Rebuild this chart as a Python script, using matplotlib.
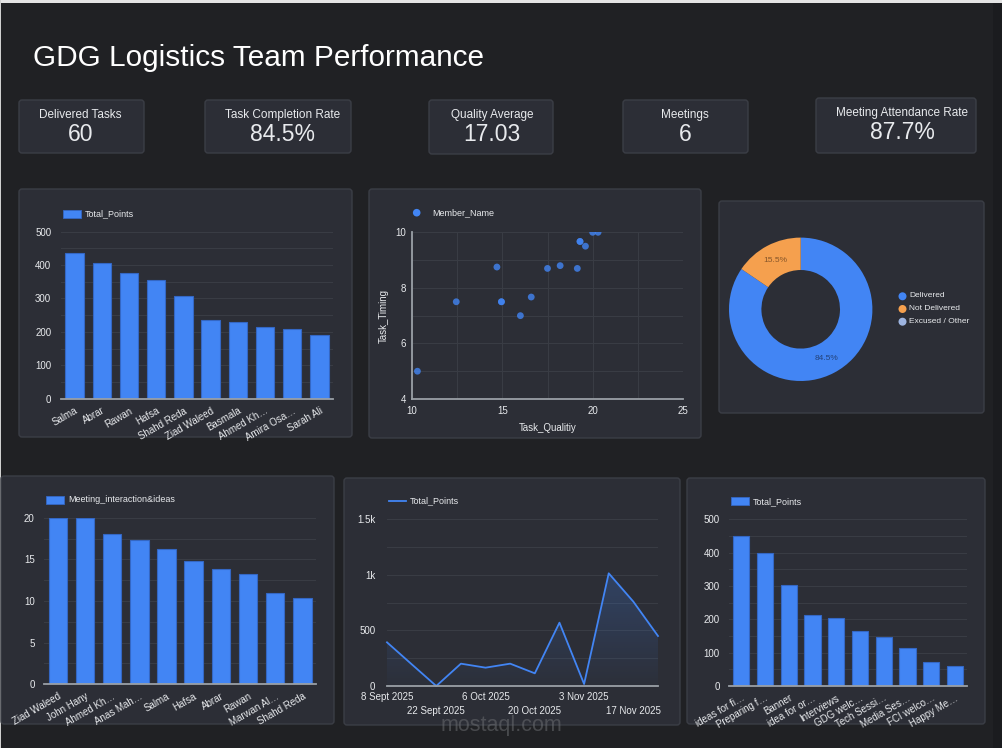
"""GDG Logistics Team Performance - dashboard recreation."""

import matplotlib
matplotlib.use("Agg")
import matplotlib.pyplot as plt
import numpy as np
from matplotlib.patches import FancyBboxPatch, Rectangle, Polygon, Circle
from matplotlib.ticker import FuncFormatter, MultipleLocator, FixedLocator

plt.rcParams["font.family"] = ["Liberation Sans", "DejaVu Sans"]

# ── Datos ────────────────────────────────────────────────────────────
kpi_labels = ["Delivered Tasks", "Task Completion Rate", "Quality Average",
              "Meetings", "Meeting Attendance Rate"]
kpi_values = ["60", "84.5%", "17.03", "6", "87.7%"]

members_points = ["Salma", "Abrar", "Rawan", "Hafsa", "Shahd Reda",
                  "Ziad Waleed", "Basmala", "Ahmed Kh…", "Amira Osa…",
                  "Sarah Ali"]
total_points = [435, 407, 375, 354, 306, 236, 231, 216, 209, 191]

task_quality = [10.3, 12.45, 14.7, 14.95, 14.95, 16.0, 16.6, 17.5, 18.2,
                19.15, 19.3, 19.3, 19.6, 20.0, 20.3]
task_timing = [5.0, 7.5, 8.75, 7.5, 7.5, 7.0, 7.67, 8.7, 8.8,
               8.7, 9.67, 9.67, 9.5, 10.0, 10.0]

delivery_labels = ["Delivered", "Not Delivered", "Excused / Other"]
delivery_share = [84.5, 15.5, 0.0]

members_meeting = ["Ziad Waleed", "John Hany", "Ahmed Kh…", "Anas Mah…",
                   "Salma", "Hafsa", "Abrar", "Rawan", "Marwan Al…",
                   "Shahd Reda"]
meeting_ideas = [20, 20, 18, 17.3, 16.3, 14.8, 13.8, 13.2, 11.0, 10.4]

weeks = ["8 Sept 2025", "15 Sept 2025", "22 Sept 2025", "29 Sept 2025",
         "6 Oct 2025", "13 Oct 2025", "20 Oct 2025", "27 Oct 2025",
         "3 Nov 2025", "10 Nov 2025", "17 Nov 2025", "24 Nov 2025"]
weekly_points = [393, 196, 0, 201, 165, 201, 114, 570, 18, 1014, 759, 450]

tasks = ["ideas for fi…", "Preparing f…", "Banner", "idea for or…",
         "Interviews", "GDG welc…", "Tech Sessi…", "Media Ses…",
         "FCI welco…", "Happy Me…"]
task_points = [450, 400, 303, 212, 203, 164, 146, 113, 71, 59]

# ── Estilo ───────────────────────────────────────────────────────────
W, H = 1002, 748
PAGE = "#202124"
CARD = "#2c2e36"
CARD_EDGE = "#3b3e46"
BLUE = "#4285f4"
BLUE_EDGE = "#3467c4"
ORANGE = "#f5a04e"
OTHER = "#9db4e0"
GRID = "#393c44"
AXIS = "#9aa0a6"
TEXT = "#e8eaed"

fig = plt.figure(figsize=(W / 100, H / 100), dpi=100)
fig.patch.set_facecolor(PAGE)

# fondo en coordenadas de píxel
bg = fig.add_axes([0, 0, 1, 1])
bg.set_xlim(0, W)
bg.set_ylim(H, 0)
bg.axis("off")
bg.set_zorder(0)
bg.add_patch(Rectangle((0, 0), W, 2.5, fc="#e4e4e4", ec="none"))
bg.add_patch(Rectangle((0, 0), 1, H, fc="#d0d0d0", ec="none"))
bg.add_patch(Rectangle((993, 2.5), W - 993, H, fc="#1b1c1f", ec="none"))


def card(x0, y0, x1, y1):
    bg.add_patch(FancyBboxPatch((x0, y0), x1 - x0, y1 - y0,
                                boxstyle="round,pad=0,rounding_size=3",
                                fc=CARD, ec=CARD_EDGE, lw=1))


def add_ax(x0, y0, x1, y1):
    ax = fig.add_axes([x0 / W, 1 - y1 / H, (x1 - x0) / W, (y1 - y0) / H])
    ax.set_facecolor("none")
    ax.set_zorder(2)
    return ax


def style_axes(ax, ypad):
    for s in ["top", "right", "left"]:
        ax.spines[s].set_visible(False)
    ax.spines["bottom"].set_color(AXIS)
    ax.spines["bottom"].set_linewidth(1.3)
    ax.spines["bottom"].set_zorder(4)
    ax.tick_params(axis="both", which="both", length=0, colors=TEXT,
                   labelsize=7)
    ax.tick_params(axis="y", pad=ypad)
    ax.grid(axis="y", which="both", color=GRID, lw=0.8, zorder=0)
    ax.set_axisbelow(True)


def bar_legend(x, y, label):
    bg.add_patch(Rectangle((x, y - 4), 18.5, 8, fc=BLUE, ec=BLUE_EDGE, lw=0.6))
    bg.text(x + 22, y, label, color=TEXT, fontsize=6.5, va="center")


def bar_panel(rect, labels, values, ymax, step, ypad):
    ax = add_ax(*rect)
    x = np.arange(len(values))
    ax.bar(x, values, width=0.68, color=BLUE, edgecolor=BLUE_EDGE, lw=0.8,
           zorder=3)
    ax.set_xlim(-0.5, len(values) - 0.5)
    ax.set_ylim(0, ymax)
    ax.yaxis.set_major_locator(MultipleLocator(step))
    ax.yaxis.set_minor_locator(MultipleLocator(step / 2))
    style_axes(ax, ypad)
    ax.set_xticks(x)
    ax.set_xticklabels(labels, rotation=30, ha="right", va="top",
                       rotation_mode="anchor")
    ax.tick_params(axis="x", pad=5)
    return ax


# ── Título y KPIs ────────────────────────────────────────────────────
bg.text(33, 66, "GDG Logistics Team Performance", color="#ffffff",
        fontsize=21.4, va="baseline")

kpi_boxes = [(19, 100, 144, 153), (205, 100, 351, 153), (429, 100, 553, 154),
             (623, 100, 748, 153), (816, 98, 976, 153)]
kpi_cx = [80.5, 283, 492, 685, 902]
for (x0, y0, x1, y1), cx, lab, val in zip(kpi_boxes, kpi_cx, kpi_labels,
                                          kpi_values):
    card(x0, y0, x1, y1)
    off = -1.7 if y0 < 100 else 0
    bg.text(cx, 115 + off, lab, color=TEXT, fontsize=8.5, ha="center",
            va="center")
    bg.text(cx, 134 + off, val, color=TEXT, fontsize=16.5, ha="center",
            va="center")

# ── Tarjetas ─────────────────────────────────────────────────────────
card(19, 189, 352, 437)
card(369, 189, 701, 438)
card(719, 201, 984, 413)
card(1, 476, 334, 724)
card(344, 478, 680, 725)
card(687, 478, 985, 724)

# A: Total_Points por miembro
bar_panel((61, 231.7, 333, 398.7), members_points, total_points, 500, 100, 7)
bar_legend(63, 213.5, "Total_Points")

# B: dispersión calidad vs. tiempo
ax = add_ax(412, 232.3, 683, 399)
ax.scatter(task_quality, task_timing, s=24, color=BLUE, alpha=0.8,
           edgecolors="none", zorder=3)
ax.set_xlim(10, 25)
ax.set_ylim(4, 10)
ax.xaxis.set_major_locator(MultipleLocator(5))
ax.xaxis.set_minor_locator(MultipleLocator(2.5))
ax.yaxis.set_major_locator(MultipleLocator(2))
ax.yaxis.set_minor_locator(MultipleLocator(1))
style_axes(ax, 4)
ax.grid(axis="x", which="both", color=GRID, lw=0.8, zorder=0)
ax.spines["left"].set_visible(True)
ax.spines["left"].set_color(AXIS)
ax.spines["left"].set_linewidth(1.3)
ax.tick_params(axis="x", pad=5)
ax.set_xlabel("Task_Qualitiy", color=TEXT, fontsize=7, labelpad=5)
ax.set_ylabel("Task_Timing", color=TEXT, fontsize=7, labelpad=5)
bg.add_patch(Circle((416.7, 212.7), 3.8, fc=BLUE, ec="none"))
bg.text(432, 213, "Member_Name", color=TEXT, fontsize=6.5, va="center")

# C: donut de entregas
R = 71.7
cx, cy = 800.7, 309.3
ax = add_ax(cx - R, cy - R, cx + R, cy + R)
wedges, _ = ax.pie(delivery_share, colors=[BLUE, ORANGE, OTHER],
                   startangle=90, counterclock=False, radius=1,
                   wedgeprops=dict(width=0.452, edgecolor="none"))
ax.set_xlim(-1, 1)
ax.set_ylim(-1, 1)
ax.set_aspect("equal")
for w, share, tc in zip(wedges, delivery_share, ["#24437a", "#86562a", TEXT]):
    if share <= 0:
        continue
    ang = np.deg2rad((w.theta1 + w.theta2) / 2)
    ax.text(0.77 * np.cos(ang), 0.77 * np.sin(ang), f"{share:.1f}%",
            color=tc, fontsize=6, ha="center", va="center")
for i, (lab, col) in enumerate(zip(delivery_labels, [BLUE, ORANGE, OTHER])):
    yy = 296.3 + i * 12.7
    bg.add_patch(Circle((902.5, yy), 4, fc=col, ec="none"))
    bg.text(909, yy - 0.5, lab, color=TEXT, fontsize=6, va="center")

# D: interacción en reuniones
bar_panel((44.3, 517.7, 316, 684.3), members_meeting, meeting_ideas, 20, 5, 7)
bar_legend(46, 499.5, "Meeting_interaction&ideas")

# E: evolución semanal de puntos
ax = add_ax(387, 519.3, 658, 686)
x = np.arange(len(weekly_points))
ax.set_xlim(0, len(weekly_points) - 1)
ax.set_ylim(0, 1500)
ax.yaxis.set_major_locator(MultipleLocator(500))
ax.yaxis.set_minor_locator(MultipleLocator(250))
ax.yaxis.set_major_formatter(
    FuncFormatter(lambda v, p: "0" if v == 0 else
                  (f"{v / 1000:g}k" if v >= 1000 else f"{v:.0f}")))
style_axes(ax, 8.5)
top = max(weekly_points)
grad = np.zeros((256, 1, 4))
grad[:, 0, 0:3] = matplotlib.colors.to_rgb(BLUE)
grad[:, 0, 3] = np.linspace(0.24, 0.02, 256)
im = ax.imshow(grad, extent=[0, len(x) - 1, 0, top], origin="upper",
               aspect="auto", zorder=1)
poly = Polygon(np.column_stack([np.r_[x, x[-1], 0],
                                np.r_[weekly_points, 0, 0]]),
               closed=True, fc="none", ec="none", transform=ax.transData)
ax.add_patch(poly)
im.set_clip_path(poly)
ax.plot(x, weekly_points, color=BLUE, lw=1.3, zorder=3, clip_on=False)
# etiquetas de fecha en dos filas: mayores arriba, menores abajo
row1 = x[::4]
row2 = x[2::4]
ax.xaxis.set_major_locator(FixedLocator(row1))
ax.xaxis.set_minor_locator(FixedLocator(row2))
ax.set_xticklabels([weeks[i] for i in row1])
ax.set_xticklabels([weeks[i] for i in row2], minor=True)
ax.tick_params(axis="x", which="major", pad=4.5)
ax.tick_params(axis="x", which="minor", pad=14.5)
ax.set_ylim(0, 1500)
bg.plot([389, 405.7], [500.7, 500.7], color=BLUE, lw=1.3)
bg.text(409.7, 500.7, "Total_Points", color=TEXT, fontsize=6.5, va="center")

# F: puntos por tarea
bar_panel((729.3, 519.3, 967, 686), tasks, task_points, 500, 100, 7)
bar_legend(731, 501.3, "Total_Points")

# marca de agua
bg.text(501, 725, "mostaql.com", color="#6a6c70", alpha=0.55, fontsize=15.5,
        ha="center", va="center", zorder=10)

fig.savefig("out.png", dpi=100, facecolor=PAGE)
